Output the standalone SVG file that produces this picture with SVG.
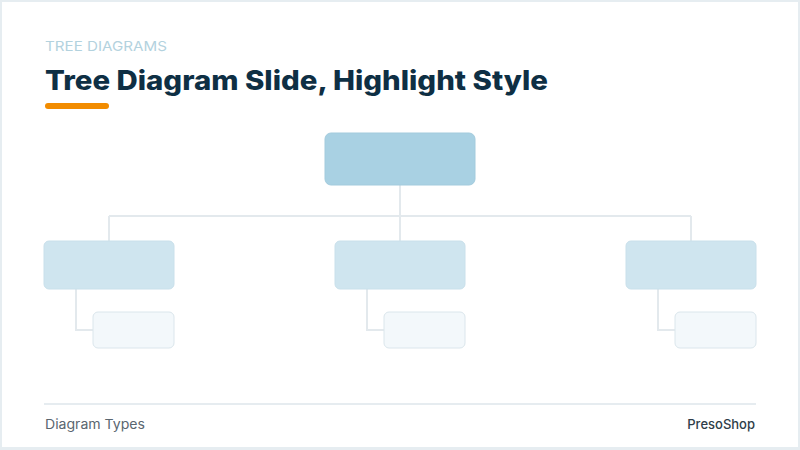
<svg xmlns="http://www.w3.org/2000/svg" width="800" height="450" viewBox="0 0 800 450">
<style>
.conn{fill:none;stroke:#e3e9ed;stroke-width:2}
.root{fill:#a9d1e3;stroke:#a3cbdd;stroke-width:1}
.child{fill:#cfe5ef;stroke:#c9e0eb;stroke-width:1}
.leaf{fill:#f3f8fb;stroke:#dbe6ec;stroke-width:1}
.kicker{font-family:Inter,"Open Sans","Liberation Sans",sans-serif;font-size:13.5px;fill:#b3d2de}
.title{font-family:Inter,"Open Sans","Liberation Sans",sans-serif;font-weight:800;font-size:27px;fill:#0e2f44}
.foot{font-family:Inter,"Open Sans","Liberation Sans",sans-serif;font-size:13px;fill:#5a6670}
.brand{font-family:Inter,"Open Sans","Liberation Sans",sans-serif;font-weight:500;font-size:13px;fill:#2e3d48}
</style>
<rect x="0" y="0" width="800" height="450" fill="#e6edf1"/>
<rect x="2" y="2" width="796" height="445" fill="#ffffff"/>
<text class="kicker" x="45" y="51" textLength="122" lengthAdjust="spacingAndGlyphs">TREE DIAGRAMS</text>
<text class="title" x="45" y="90" textLength="503" lengthAdjust="spacingAndGlyphs">Tree Diagram Slide, Highlight Style</text>
<rect x="45" y="103" width="64" height="6" rx="3" fill="#f28c00"/>
<g id="connectors">
<path class="conn" d="M400 185V241M109 216H691M109 216V241M691 216V241"/>
<path class="conn" d="M76 289V330H93M367 289V330H384M658 289V330H675"/>
</g>
<g id="root"><rect class="root" x="325" y="133" width="150" height="52" rx="6"/></g>
<g id="child-left"><rect class="child" x="44" y="241" width="130" height="48" rx="5"/></g>
<g id="child-mid"><rect class="child" x="335" y="241" width="130" height="48" rx="5"/></g>
<g id="child-right"><rect class="child" x="626" y="241" width="130" height="48" rx="5"/></g>
<g id="leaf-left"><rect class="leaf" x="93" y="312" width="81" height="36" rx="5"/></g>
<g id="leaf-mid"><rect class="leaf" x="384" y="312" width="81" height="36" rx="5"/></g>
<g id="leaf-right"><rect class="leaf" x="675" y="312" width="81" height="36" rx="5"/></g>
<line x1="44" y1="404" x2="756" y2="404" stroke="#e6ecf0" stroke-width="2"/>
<text class="foot" x="45" y="429" textLength="100" lengthAdjust="spacingAndGlyphs">Diagram Types</text>
<text class="brand" x="755" y="429" text-anchor="end">PresoShop</text>
</svg>
